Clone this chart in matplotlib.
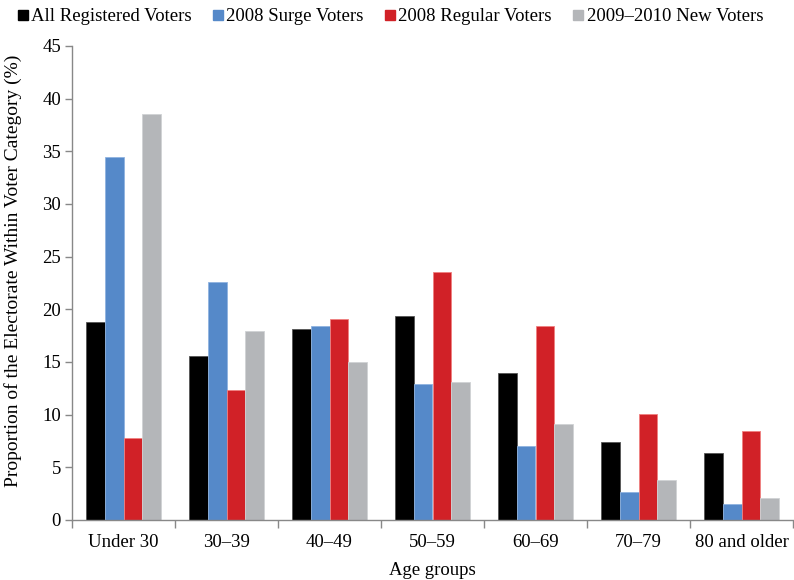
import numpy as np
import matplotlib.pyplot as plt
from matplotlib.lines import Line2D

plt.rcParams['font.family'] = ['Liberation Serif', 'DejaVu Serif']

# data
age_groups = ["Under 30", "30\u201339", "40\u201349", "50\u201359", "60\u201369", "70\u201379", "80 and older"]
all_registered = [18.8, 15.6, 18.1, 19.4, 14.0, 7.4, 6.4]
surge_2008 = [34.5, 22.6, 18.4, 12.95, 7.0, 2.65, 1.55]
regular_2008 = [7.8, 12.3, 19.1, 23.55, 18.45, 10.05, 8.45]
new_2009_2010 = [38.5, 17.95, 15.0, 13.1, 9.1, 3.8, 2.1]

series_names = ["All Registered Voters", "2008 Surge Voters", "2008 Regular Voters", "2009\u20132010 New Voters"]
colors = ["#000000", "#5589c9", "#d12127", "#b4b6b9"]
edges = ["#555555", "#8fb3e0", "#f08080", "#d0d2d4"]

fig = plt.figure(figsize=(7.94, 5.80), dpi=100)
ax = fig.add_axes([72/794, 60/580, 721/794, 474/580])

x = np.arange(len(age_groups))
w = 0.182
allseries = [all_registered, surge_2008, regular_2008, new_2009_2010]
for i, vals in enumerate(allseries):
    ax.bar(x + (i - 1.5) * w, vals, width=w, color=colors[i],
           edgecolor=edges[i], linewidth=0.6, zorder=2)

ax.set_xlim(-0.5, len(age_groups) - 0.5)
ax.set_ylim(0, 45)
ax.set_yticks(np.arange(0, 46, 5))
ax.set_xticks(x)
ax.set_xticklabels(age_groups, fontsize=13.5)
ax.tick_params(axis='x', length=0, pad=10)
ax.set_xticks(np.arange(-0.5, len(age_groups)), minor=True)
ax.tick_params(axis='x', which='minor', length=6, color="#888888", width=1)
ax.tick_params(axis='y', labelsize=13.5, length=5, color="#888888", width=1, pad=3)

for s in ["top", "right"]:
    ax.spines[s].set_visible(False)
for s in ["left", "bottom"]:
    ax.spines[s].set_color("#888888")
    ax.spines[s].set_linewidth(1)

ax.set_xlabel("Age groups", fontsize=13.5, labelpad=8)
ax.set_ylabel("Proportion of the Electorate Within Voter Category (%)", fontsize=14, labelpad=11)
ax.yaxis.set_label_coords(-0.07, 0.525)

handles = [Line2D([], [], marker="s", linestyle="none", markersize=7,
                  markerfacecolor=c, markeredgecolor=c) for c in colors]
fig.legend(handles, series_names, loc="upper center", bbox_to_anchor=(0.49, 1.015),
           ncol=4, frameon=False, fontsize=13.5, handletextpad=0.05,
           columnspacing=1.0, handlelength=0.8)

fig.savefig("out.png", dpi=100)
